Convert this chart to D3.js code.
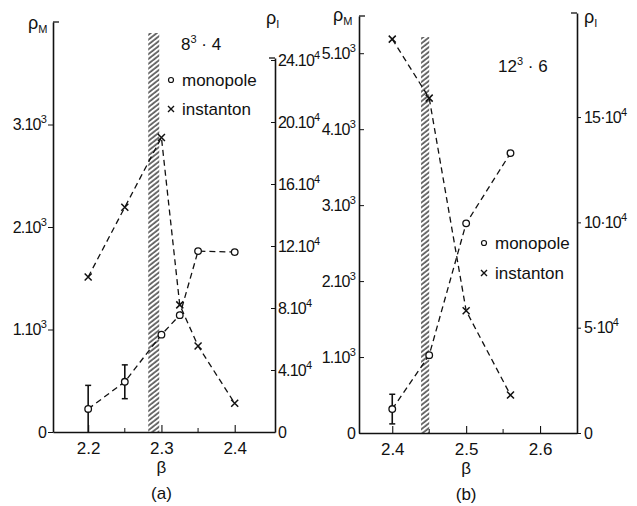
<!DOCTYPE html>
<html>
<head>
<meta charset="utf-8">
<script src="https://cdn.jsdelivr.net/npm/d3@7"></script>
<style>
  body { margin: 0; background: #fff; }
  svg { display: block; }
  text { font-family: "Liberation Sans", Arial, sans-serif; fill: #111; }
</style>
</head>
<body>
<div id="chart"></div>
<script>
// two panels: monopole density (left axis) and instanton density (right axis) vs beta

// panel (a): 8^3 x 4
const betaA = [2.2, 2.25, 2.3, 2.325, 2.35, 2.4];
const monoA = [225, 490, 950, 1140, 1765, 1755];
const monoAErr = [230, 165, 0, 0, 0, 0];
const instA = [100000, 145000, 190000, 82000, 55500, 18500];
const bandA = [2.282, 2.297];
const xTicksA = [2.2, 2.3, 2.4];
const xMinorA = [2.25, 2.35];
const yTicksAM = [0, 1000, 2000, 3000];
const yTicksAI = [0, 40000, 80000, 120000, 160000, 200000, 240000];

// panel (b): 12^3 x 6
const betaB = [2.4, 2.45, 2.5, 2.56];
const monoB = [315, 1025, 2760, 3685];
const monoBErr = [195, 0, 0, 0];
const instB = [187000, 159000, 58000, 18000];
const bandB = [2.439, 2.45];
const xTicksB = [2.4, 2.5, 2.6];
const xMinorB = [2.45, 2.55];
const yTicksBM = [0, 1000, 2000, 3000, 4000, 5000];
const yTicksBI = [0, 50000, 100000, 150000];

const W = 637, H = 506;

const svg = d3.select('#chart')
  .append('svg')
  .attr('width', W)
  .attr('height', H);

// hatch pattern for the transition band ("/" strokes)
svg.append('defs')
  .append('pattern')
  .attr('id', 'hatch')
  .attr('patternUnits', 'userSpaceOnUse')
  .attr('width', 8)
  .attr('height', 3.8)
  .attr('patternTransform', 'rotate(-38)')
  .append('line')
  .attr('x1', 0).attr('y1', 1)
  .attr('x2', 8).attr('y2', 1)
  .attr('stroke', '#111')
  .attr('stroke-width', 1.2);

// writes "m.10^e" style labels with a raised exponent
function sciText(sel, sep, exp) {
  sel.each(function(d) {
    const t = d3.select(this);
    t.text(null);
    if (d === 0) { t.text('0'); return; }
    const m = d / Math.pow(10, exp);
    t.append('tspan').text(m + sep + '10');
    t.append('tspan')
      .attr('dy', -7)
      .attr('font-size', 11)
      .text(exp);
  });
}

function crossPath(s) {
  return `M${-s},${-s}L${s},${s}M${-s},${s}L${s},${-s}`;
}

function drawPanel(cfg) {
  const g = svg.append('g');
  const x = cfg.x, yM = cfg.yM, yI = cfg.yI;
  const x0 = x.range()[0], x1 = x.range()[1];
  const base = yM(0);

  // hatched band
  g.append('rect')
    .attr('x', x(cfg.band[0]))
    .attr('y', cfg.bandTop)
    .attr('width', x(cfg.band[1]) - x(cfg.band[0]))
    .attr('height', base - cfg.bandTop)
    .attr('fill', 'url(#hatch)');

  // x axis, ticks pointing up
  const xAxis = g.append('g')
    .attr('transform', `translate(0,${base})`)
    .call(d3.axisBottom(x).tickValues(cfg.xTicks).tickSize(-7).tickSizeOuter(0).tickPadding(10).tickFormat(d3.format('.1f')));
  xAxis.select('.domain').attr('stroke-width', 1.6);
  xAxis.selectAll('.tick line').attr('stroke-width', 1.1);
  xAxis.selectAll('.tick text').attr('font-size', 17).attr('fill', '#111');
  g.selectAll('.minor')
    .data(cfg.xMinor)
    .enter()
    .append('line')
    .attr('x1', d => x(d)).attr('x2', d => x(d))
    .attr('y1', base).attr('y2', base - 4)
    .attr('stroke', '#111');

  // left axis (monopole)
  const lAxis = g.append('g')
    .attr('transform', `translate(${x0},0)`)
    .call(d3.axisLeft(yM).tickValues(cfg.yTicksM).tickSize(cfg.leftTickIn ? -5 : 5).tickSizeOuter(0).tickPadding(cfg.leftTickIn ? 4 : 2));
  lAxis.select('.domain').attr('stroke-width', 1.6);
  lAxis.selectAll('.tick text').attr('font-size', 16).attr('letter-spacing', -0.8).call(sciText, '.', 3);
  lAxis.append('line')
    .attr('x1', 0).attr('x2', 6)
    .attr('y1', yM.range()[1]).attr('y2', yM.range()[1])
    .attr('stroke', '#111').attr('stroke-width', 1.3);

  // right axis (instanton)
  const rAxis = g.append('g')
    .attr('transform', `translate(${x1},0)`)
    .call(d3.axisRight(yI).tickValues(cfg.yTicksI).tickSize(cfg.rightTickIn ? -4 : 4).tickSizeOuter(0).tickPadding(3));
  rAxis.select('.domain').attr('stroke-width', 1.6);
  rAxis.selectAll('.tick text').attr('font-size', 16).attr('letter-spacing', -0.8).call(sciText, cfg.sepI, 4);
  rAxis.append('line')
    .attr('x1', 0).attr('x2', -6)
    .attr('y1', yI.range()[1]).attr('y2', yI.range()[1])
    .attr('stroke', '#111').attr('stroke-width', 1.3);
  g.selectAll('.domain, .tick line').attr('stroke', '#111');

  const dash = '6,4';

  // instanton series
  g.append('path')
    .datum(cfg.beta.map((b, i) => [b, cfg.inst[i]]))
    .attr('fill', 'none')
    .attr('stroke', '#111')
    .attr('stroke-width', 1.3)
    .attr('stroke-dasharray', dash)
    .attr('d', d3.line().x(d => x(d[0])).y(d => yI(d[1])));

  g.selectAll('.inst')
    .data(cfg.beta.map((b, i) => [b, cfg.inst[i]]))
    .enter()
    .append('path')
    .attr('transform', d => `translate(${x(d[0])},${yI(d[1])})`)
    .attr('d', crossPath(3.5))
    .attr('stroke', '#111')
    .attr('stroke-width', 1.5);

  // monopole series
  const mono = cfg.beta.map((b, i) => [b, cfg.mono[i], cfg.err[i]]);
  g.append('path')
    .datum(mono)
    .attr('fill', 'none')
    .attr('stroke', '#111')
    .attr('stroke-width', 1.3)
    .attr('stroke-dasharray', dash)
    .attr('d', d3.line().x(d => x(d[0])).y(d => yM(d[1])));

  mono.filter(d => d[2] > 0).forEach(d => {
    const lo = Math.max(0, d[1] - d[2]), hi = d[1] + d[2];
    g.append('line')
      .attr('x1', x(d[0])).attr('x2', x(d[0]))
      .attr('y1', yM(lo)).attr('y2', yM(hi))
      .attr('stroke', '#111').attr('stroke-width', 1.6);
    [lo, hi].filter(v => v > 0).forEach(v => {
      g.append('line')
        .attr('x1', x(d[0]) - 3).attr('x2', x(d[0]) + 3)
        .attr('y1', yM(v)).attr('y2', yM(v))
        .attr('stroke', '#111').attr('stroke-width', 1.5);
    });
  });

  g.selectAll('.mono')
    .data(mono)
    .enter()
    .append('circle')
    .attr('cx', d => x(d[0]))
    .attr('cy', d => yM(d[1]))
    .attr('r', 3.3)
    .attr('fill', '#fff')
    .attr('stroke', '#111')
    .attr('stroke-width', 1.3);

  // axis titles
  const rho = (px, py, sub) => {
    const t = g.append('text').attr('x', px).attr('y', py).attr('font-size', 18);
    t.append('tspan').text('ρ');
    t.append('tspan').attr('dy', 4).attr('font-size', 11).text(sub);
  };
  rho(cfg.rhoM[0], cfg.rhoM[1], 'M');
  rho(cfg.rhoI[0], cfg.rhoI[1], 'I');

  const xc = x(cfg.xTicks[1]);
  g.append('text').attr('x', xc).attr('y', base + 41).attr('text-anchor', 'middle').attr('font-size', 17).text('β');
  g.append('text').attr('x', xc).attr('y', base + 67).attr('text-anchor', 'middle').attr('font-size', 17).text(cfg.tag);

  // lattice size
  const lt = g.append('text').attr('x', cfg.lattice[0]).attr('y', cfg.lattice[1]).attr('font-size', 17);
  lt.append('tspan').text(cfg.latticeText[0]);
  lt.append('tspan').attr('dy', -7).attr('font-size', 11).text('3');
  lt.append('tspan').attr('dy', 7).text(' · ' + cfg.latticeText[1]);

  // legend
  const lx = cfg.legend[0], ly = cfg.legend[1];
  g.append('circle').attr('cx', lx).attr('cy', ly).attr('r', 2.5)
    .attr('fill', '#fff').attr('stroke', '#111').attr('stroke-width', 1.2);
  g.append('text').attr('x', lx + 11).attr('y', ly + 6).attr('font-size', 17).text('monopole');
  g.append('path').attr('transform', `translate(${lx},${ly + cfg.legendGap})`)
    .attr('d', crossPath(3)).attr('stroke', '#111').attr('stroke-width', 1.4);
  g.append('text').attr('x', lx + 11).attr('y', ly + cfg.legendGap + 6).attr('font-size', 17).text('instanton');
}

drawPanel({
  x: d3.scaleLinear().domain([2.152, 2.455]).range([53, 275]),
  yM: d3.scaleLinear().domain([0, 4000]).range([432, 22]),
  yI: d3.scaleLinear().domain([0, 241300]).range([432, 58]),
  beta: betaA, mono: monoA, err: monoAErr, inst: instA,
  band: bandA, bandTop: 33,
  xTicks: xTicksA, xMinor: xMinorA,
  yTicksM: yTicksAM, yTicksI: yTicksAI,
  leftTickIn: false, rightTickIn: true, sepI: '.',
  rhoM: [28, 29], rhoI: [266, 24],
  tag: '(a)',
  lattice: [181, 50], latticeText: ['8', '4'],
  legend: [171, 80], legendGap: 29
});

drawPanel({
  x: d3.scaleLinear().domain([2.355, 2.65]).range([359, 577]),
  yM: d3.scaleLinear().domain([0, 5490]).range([433, 16]),
  yI: d3.scaleLinear().domain([0, 199400]).range([433, 13]),
  beta: betaB, mono: monoB, err: monoBErr, inst: instB,
  band: bandB, bandTop: 37,
  xTicks: xTicksB, xMinor: xMinorB,
  yTicksM: yTicksBM, yTicksI: yTicksBI,
  leftTickIn: true, rightTickIn: false, sepI: '·',
  rhoM: [333, 21], rhoI: [584, 23],
  tag: '(b)',
  lattice: [498, 72], latticeText: ['12', '6'],
  legend: [484, 243], legendGap: 30
});
</script>
</body>
</html>
